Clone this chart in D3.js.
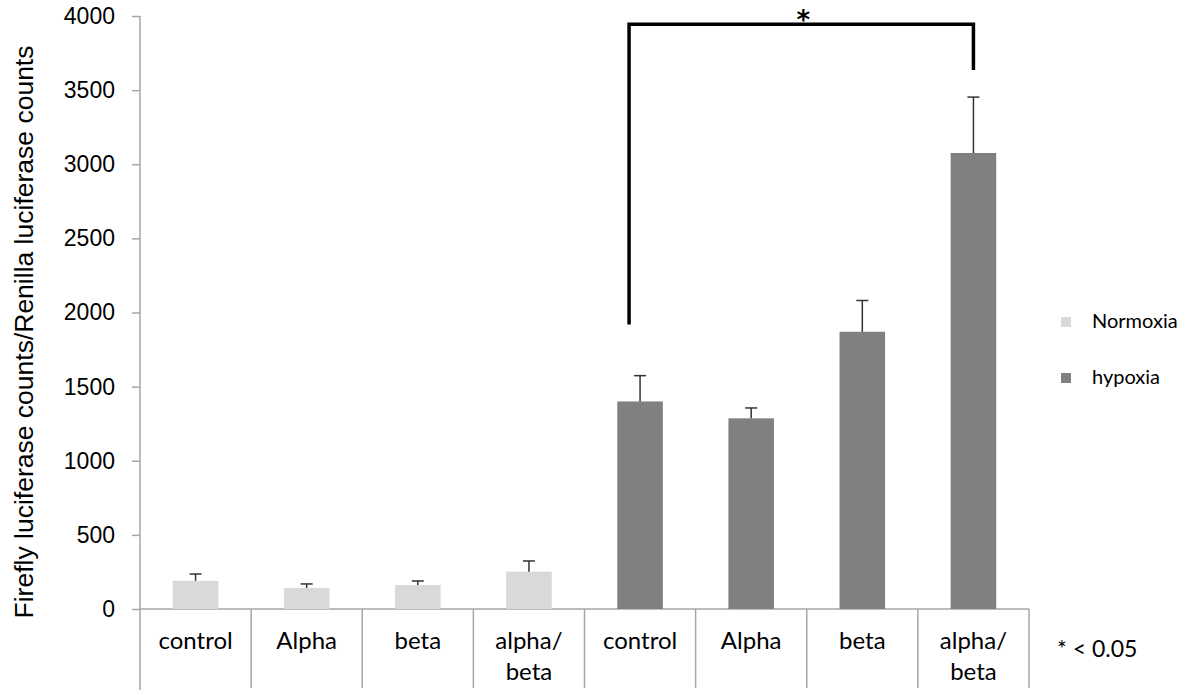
<!DOCTYPE html>
<html>
<head>
<meta charset="utf-8">
<script src="https://cdn.jsdelivr.net/npm/d3@7"></script>
<style>
  body { margin: 0; background: #fff; }
  svg { display: block; }
</style>
</head>
<body>
<svg width="1195" height="690"></svg>
<script>
// category labels (two groups of four)
let labels = ['control', 'Alpha', 'beta', 'alpha/|beta', 'control', 'Alpha', 'beta', 'alpha/|beta'];
let groups = ['Normoxia', 'hypoxia'];
let colors = ['#d9d9d9', '#808080'];

// means and error (upper) per bar
let normoxia = [190, 142, 162, 252];
let normoxiaErr = [46, 27, 27, 72];
let hypoxia = [1400, 1286, 1870, 3076];
let hypoxiaErr = [174, 70, 211, 377];

let yTicks = [0, 500, 1000, 1500, 2000, 2500, 3000, 3500, 4000];

// significance bracket: from hypoxia control to hypoxia alpha/beta
let bracket = { from: 4, to: 7, top: 3945, leftEnd: 1919, rightEnd: 3635 };

let bars = normoxia.map((v, i) => ({ i: i, v: v, e: normoxiaErr[i], g: 0 }))
  .concat(hypoxia.map((v, i) => ({ i: i + 4, v: v, e: hypoxiaErr[i], g: 1 })));

let svg = d3.select('svg');

let x = d3.scaleBand().domain(d3.range(labels.length)).range([140, 1029]).padding(0);
let y = d3.scaleLinear().domain([0, 4000]).range([609, 16]);
let barW = x.bandwidth() * 0.41;
let cx = (i) => x(i) + x.bandwidth() / 2;

// y axis
let yAxis = d3.axisLeft(y)
  .tickValues(yTicks)
  .tickFormat(d3.format('d'))
  .tickSize(8)
  .tickSizeOuter(0);
let ga = svg.append('g')
  .attr('transform', 'translate(140,0)')
  .call(yAxis)
  .attr('font-family', 'Liberation Sans')
  .attr('font-size', 23);
ga.select('.domain').remove();
ga.selectAll('line').attr('stroke', '#a6a6a6').attr('stroke-width', 1.5);
ga.selectAll('text')
  .attr('fill', '#000')
  .attr('x', -25);

svg.append('line')
  .attr('x1', 140).attr('x2', 140)
  .attr('y1', y(4000)).attr('y2', 690)
  .attr('stroke', '#a6a6a6').attr('stroke-width', 1.5);

// baseline and category table
svg.append('line')
  .attr('x1', 140).attr('x2', 1029)
  .attr('y1', y(0)).attr('y2', y(0))
  .attr('stroke', '#a6a6a6').attr('stroke-width', 1.5);

svg.selectAll('.divider')
  .data(d3.range(1, labels.length + 1))
  .join('line')
  .attr('class', 'divider')
  .attr('x1', (d) => x(0) + d * x.step())
  .attr('x2', (d) => x(0) + d * x.step())
  .attr('y1', y(0))
  .attr('y2', 688)
  .attr('stroke', '#a6a6a6')
  .attr('stroke-width', 1.5);

svg.selectAll('.cat')
  .data(labels)
  .join('text')
  .attr('class', 'cat')
  .attr('font-family', 'Lato')
  .attr('font-size', 24)
  .attr('text-anchor', 'middle')
  .attr('fill', '#000')
  .each(function (d, i) {
    d.split('|').forEach((line, k) => {
      d3.select(this).append('tspan')
        .attr('x', cx(i))
        .attr('y', 649 + k * 31)
        .text(line);
    });
  });

// bars
svg.selectAll('.bar')
  .data(bars)
  .join('rect')
  .attr('class', 'bar')
  .attr('x', (d) => cx(d.i) - barW / 2)
  .attr('width', barW)
  .attr('y', (d) => y(d.v))
  .attr('height', (d) => y(0) - y(d.v))
  .attr('fill', (d) => colors[d.g]);

// error bars (upper only)
let err = svg.append('g').attr('stroke', '#333').attr('stroke-width', 1.5);
err.selectAll('.stem')
  .data(bars)
  .join('line')
  .attr('x1', (d) => cx(d.i)).attr('x2', (d) => cx(d.i))
  .attr('y1', (d) => y(d.v)).attr('y2', (d) => y(d.v + d.e));
err.selectAll('.cap')
  .data(bars)
  .join('line')
  .attr('x1', (d) => cx(d.i) - 6).attr('x2', (d) => cx(d.i) + 6)
  .attr('y1', (d) => y(d.v + d.e)).attr('y2', (d) => y(d.v + d.e));

// significance bracket
let bx1 = cx(bracket.from) - 11;
let bx2 = cx(bracket.to);
svg.append('path')
  .attr('d', d3.line()([
    [bx1, y(bracket.leftEnd)],
    [bx1, y(bracket.top)],
    [bx2, y(bracket.top)],
    [bx2, y(bracket.rightEnd)]
  ]))
  .attr('fill', 'none')
  .attr('stroke', '#000')
  .attr('stroke-width', 3.5);

svg.append('text')
  .attr('x', (bx1 + bx2) / 2 + 2)
  .attr('y', 29)
  .attr('text-anchor', 'middle')
  .attr('font-family', 'DejaVu Sans')
  .attr('font-weight', 'bold')
  .attr('font-size', 26)
  .text('*');

// y title
svg.append('text')
  .attr('transform', 'translate(33,' + 332 + ') rotate(-90)')
  .attr('text-anchor', 'middle')
  .attr('font-family', 'Liberation Sans')
  .attr('font-size', 26.5)
  .attr('fill', '#000')
  .text('Firefly luciferase counts/Renilla luciferase counts');

// legend
let lg = svg.selectAll('.lg')
  .data(groups)
  .join('g')
  .attr('class', 'lg')
  .attr('transform', (d, i) => 'translate(1061,' + (322 + i * 56) + ')');
lg.append('rect')
  .attr('x', 0).attr('y', -5)
  .attr('width', 10).attr('height', 10)
  .attr('fill', (d, i) => colors[i]);
lg.append('text')
  .attr('x', 31).attr('y', 6)
  .attr('font-family', 'Lato')
  .attr('font-size', 20)
  .text((d) => d);

svg.append('text')
  .attr('x', 1057).attr('y', 657)
  .attr('font-family', 'Lato')
  .attr('font-size', 23)
  .text('* < 0.05');
</script>
</body>
</html>
